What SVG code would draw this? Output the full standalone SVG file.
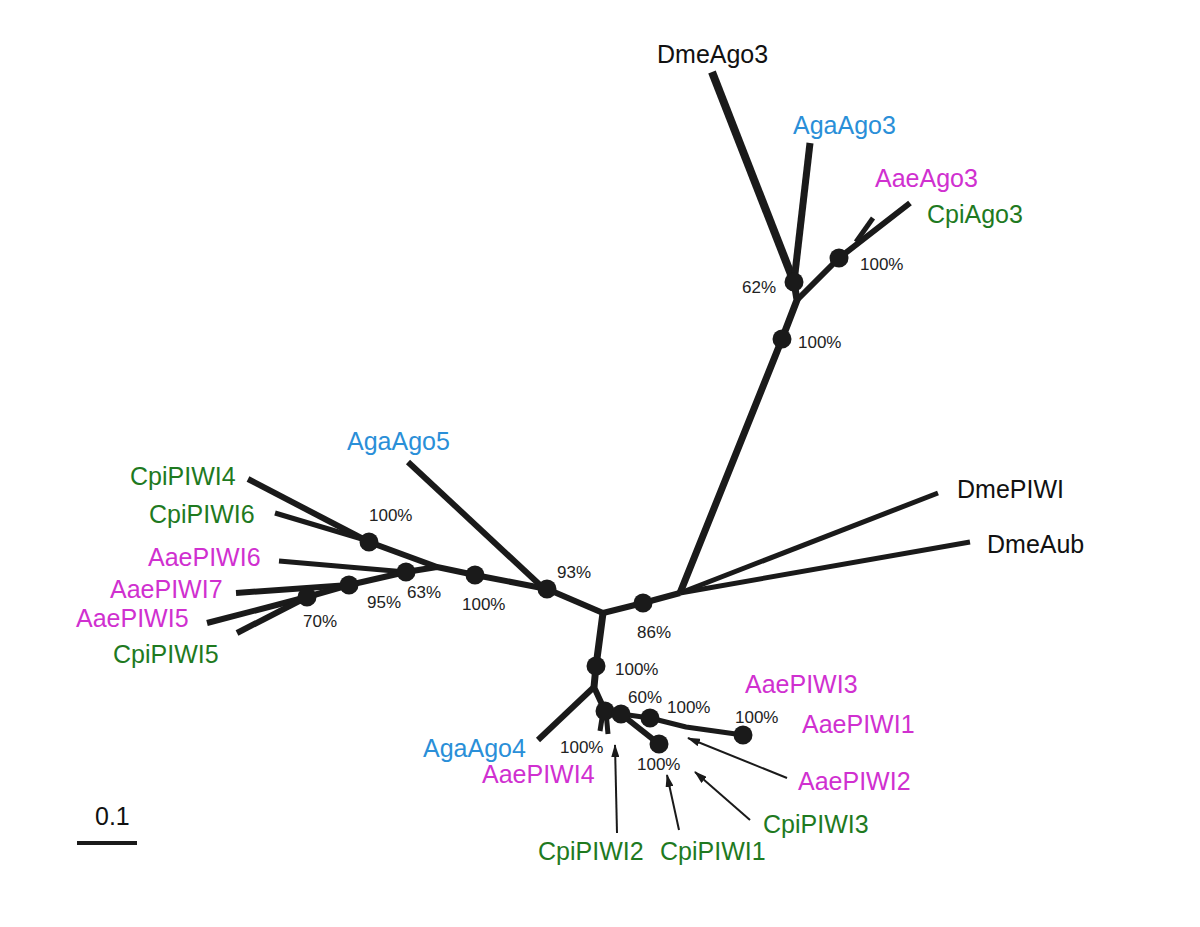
<svg xmlns="http://www.w3.org/2000/svg" width="1200" height="927" viewBox="0 0 1200 927">
<style>
.br{stroke:#1a1a1a;fill:none;stroke-linecap:butt;stroke-linejoin:round}
.w8{stroke-width:8}.w7{stroke-width:7}.w6{stroke-width:6}.w5{stroke-width:5}
.ar{stroke:#1a1a1a;stroke-width:2;fill:none}
.nd{fill:#1a1a1a}
.lf{font-family:"Liberation Sans",Arial,sans-serif;font-size:25px}
.bs{font-family:"Liberation Sans",Arial,sans-serif;font-size:17px;fill:#222}
.k{fill:#111}.b{fill:#2a8fd8}.m{fill:#d030d0}.g{fill:#1f7a1f}
</style>
<defs>
<marker id="ah" markerWidth="13" markerHeight="8" refX="12" refY="4" orient="auto" markerUnits="userSpaceOnUse">
<path d="M0,0 L13,4 L0,8 Z" fill="#1a1a1a"/>
</marker>
</defs>
<rect width="1200" height="927" fill="#fff"/>
<g id="connectors">
<polyline class="br w6" points="603,613 643,603 680,593"/>
<polyline class="br w7" points="680,593 782,339 797,300 794,282"/>
<line class="br w8" x1="794" y1="282" x2="712" y2="72"/>
<line class="br w7" x1="794" y1="282" x2="810" y2="143"/>
<polyline class="br w6" points="797,300 839,258 910,203"/>
<line class="br w5" x1="856" y1="242" x2="873" y2="218"/>
<line class="br w5" x1="680" y1="593" x2="938" y2="493"/>
<line class="br w5" x1="680" y1="593" x2="970" y2="542"/>
<line class="br w6" x1="603" y1="613" x2="547" y2="589"/>
<line class="br w6" x1="540" y1="585" x2="408" y2="462"/>
<polyline class="br w6" points="547,589 475,575 437,567 406,572"/>
<line class="br w5" x1="406" y1="572" x2="279" y2="561"/>
<line class="br w6" x1="406" y1="572" x2="349" y2="585"/>
<line class="br w6" x1="349" y1="585" x2="236" y2="593"/>
<line class="br w6" x1="349" y1="585" x2="307" y2="597"/>
<line class="br w6" x1="307" y1="597" x2="207" y2="623"/>
<line class="br w6" x1="307" y1="597" x2="237" y2="633"/>
<line class="br w6" x1="437" y1="567" x2="369" y2="542"/>
<line class="br w6" x1="369" y1="542" x2="248" y2="479"/>
<line class="br w5" x1="362" y1="539" x2="275" y2="513"/>
<polyline class="br w7" points="603,613 596,666 594,687"/>
<line class="br w6" x1="594" y1="687" x2="538" y2="740"/>
<polyline class="br w6" points="594,687 605,711 621,714"/>
<line class="br w5" x1="603" y1="712" x2="600" y2="731"/>
<line class="br w5" x1="606" y1="712" x2="608" y2="734"/>
<line class="br w6" x1="621" y1="714" x2="659" y2="744"/>
<line class="br w5" x1="621" y1="714" x2="650" y2="718"/>
<path class="br w5" d="M650,718 L686,727 Q715,731 743,735"/>
<line class="ar" x1="787" y1="778" x2="688" y2="738" marker-end="url(#ah)"/>
<line class="ar" x1="750" y1="820" x2="695" y2="772" marker-end="url(#ah)"/>
<line class="ar" x1="679" y1="830" x2="667" y2="775" marker-end="url(#ah)"/>
<line class="ar" x1="617" y1="833" x2="615" y2="745" marker-end="url(#ah)"/>
</g>
<g id="n62"><circle class="nd" cx="794" cy="282" r="9.5"/><text class="bs" x="742" y="293">62%</text></g>
<g id="nAgo3"><circle class="nd" cx="839" cy="258" r="9.5"/><text class="bs" x="860" y="270">100%</text></g>
<g id="nTop"><circle class="nd" cx="782" cy="339" r="9.5"/><text class="bs" x="798" y="348">100%</text></g>
<g id="n86"><circle class="nd" cx="643" cy="603" r="9.5"/><text class="bs" x="637" y="638">86%</text></g>
<g id="n93"><circle class="nd" cx="547" cy="589" r="9.5"/><text class="bs" x="557" y="578">93%</text></g>
<g id="nL100"><circle class="nd" cx="475" cy="575" r="9.5"/><text class="bs" x="462" y="610">100%</text></g>
<g id="n63"><circle class="nd" cx="406" cy="572" r="9.5"/><text class="bs" x="407" y="598">63%</text></g>
<g id="n95"><circle class="nd" cx="349" cy="585" r="9.5"/><text class="bs" x="367" y="608">95%</text></g>
<g id="n70"><circle class="nd" cx="307" cy="597" r="9.5"/><text class="bs" x="303" y="627">70%</text></g>
<g id="nP46"><circle class="nd" cx="369" cy="542" r="9.5"/><text class="bs" x="369" y="521">100%</text></g>
<g id="nB100"><circle class="nd" cx="596" cy="666" r="9.5"/><text class="bs" x="615" y="675">100%</text></g>
<g id="nP4"><circle class="nd" cx="605" cy="711" r="9.5"/><text class="bs" x="560" y="753">100%</text></g>
<g id="n60"><circle class="nd" cx="621" cy="714" r="9.5"/><text class="bs" x="628" y="703">60%</text></g>
<g id="nP13"><circle class="nd" cx="650" cy="718" r="9.5"/><text class="bs" x="667" y="713">100%</text></g>
<g id="nP1"><circle class="nd" cx="659" cy="744" r="9.5"/><text class="bs" x="637" y="770">100%</text></g>
<g id="nP3"><circle class="nd" cx="743" cy="735" r="9.5"/><text class="bs" x="735" y="723">100%</text></g>
<g id="DmeAgo3"><text class="lf k" x="657" y="63">DmeAgo3</text></g>
<g id="AgaAgo3"><text class="lf b" x="793" y="134">AgaAgo3</text></g>
<g id="AaeAgo3"><text class="lf m" x="875" y="187">AaeAgo3</text></g>
<g id="CpiAgo3"><text class="lf g" x="927" y="223">CpiAgo3</text></g>
<g id="DmePIWI"><text class="lf k" x="957" y="498">DmePIWI</text></g>
<g id="DmeAub"><text class="lf k" x="987" y="553">DmeAub</text></g>
<g id="AgaAgo5"><text class="lf b" x="347" y="450">AgaAgo5</text></g>
<g id="CpiPIWI4"><text class="lf g" x="130" y="485">CpiPIWI4</text></g>
<g id="CpiPIWI6"><text class="lf g" x="149" y="523">CpiPIWI6</text></g>
<g id="AaePIWI6"><text class="lf m" x="148" y="566">AaePIWI6</text></g>
<g id="AaePIWI7"><text class="lf m" x="110" y="598">AaePIWI7</text></g>
<g id="AaePIWI5"><text class="lf m" x="76" y="627">AaePIWI5</text></g>
<g id="CpiPIWI5"><text class="lf g" x="113" y="663">CpiPIWI5</text></g>
<g id="AgaAgo4"><text class="lf b" x="423" y="757">AgaAgo4</text></g>
<g id="AaePIWI4"><text class="lf m" x="482" y="783">AaePIWI4</text></g>
<g id="CpiPIWI2"><text class="lf g" x="538" y="860">CpiPIWI2</text></g>
<g id="CpiPIWI1"><text class="lf g" x="660" y="860">CpiPIWI1</text></g>
<g id="CpiPIWI3"><text class="lf g" x="763" y="833">CpiPIWI3</text></g>
<g id="AaePIWI2"><text class="lf m" x="798" y="790">AaePIWI2</text></g>
<g id="AaePIWI1"><text class="lf m" x="802" y="733">AaePIWI1</text></g>
<g id="AaePIWI3"><text class="lf m" x="745" y="693">AaePIWI3</text></g>
<g id="scale"><text class="lf k" x="95" y="825" font-size="24">0.1</text><line x1="77" y1="843" x2="137" y2="843" stroke="#1a1a1a" stroke-width="4"/></g>
</svg>
